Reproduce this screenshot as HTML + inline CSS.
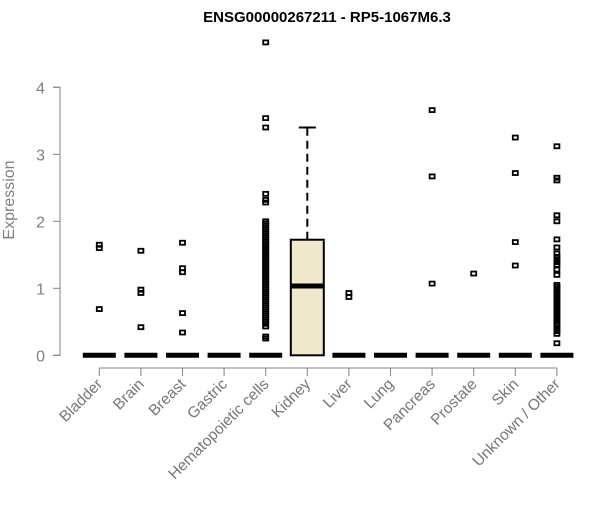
<!DOCTYPE html>
<html><head><meta charset="utf-8"><style>
body{margin:0;background:#fff;width:600px;height:500px;overflow:hidden}
svg{font-family:"Liberation Sans",Arial,sans-serif}
</style></head><body>
<svg id="chart" width="600" height="500"></svg>
<script>
const categories=["Bladder","Brain","Breast","Gastric","Hematopoietic cells","Kidney","Liver","Lung","Pancreas","Prostate","Skin","Unknown / Other"];
const q1=[0,0,0,0,0,0,0,0,0,0,0,0];
const medians=[0,0,0,0,0,1.034,0,0,0,0,0,0];
const q3=[0,0,0,0,0,1.725,0,0,0,0,0,0];
const whiskerLow=[0,0,0,0,0,0,0,0,0,0,0,0];
const whiskerHigh=[0,0,0,0,0,3.40,0,0,0,0,0,0];
const outliers=[
[1.65,1.6,0.69],
[1.56,0.98,0.93,0.42],
[1.68,1.30,1.24,0.63,0.34],
[],
[4.67,3.54,3.40,2.41,2.32,2.28,2.0,1.97,1.94,1.91,1.88,1.85,1.82,1.79,1.76,1.73,1.70,1.67,1.64,1.61,1.58,1.55,1.52,1.49,1.46,1.43,1.40,1.37,1.34,1.31,1.28,1.25,1.22,1.19,1.16,1.13,1.10,1.07,1.04,1.01,0.98,0.95,0.92,0.89,0.86,0.83,0.80,0.77,0.74,0.71,0.68,0.65,0.62,0.59,0.56,0.53,0.50,0.47,0.43,0.28,0.25],
[],
[0.93,0.87],
[],
[3.66,2.67,1.07],
[1.22],
[3.25,2.72,1.69,1.34],
[3.12,2.65,2.61,2.09,2.0,1.73,1.61,1.52,1.47,1.43,1.39,1.35,1.28,1.20,1.05,1.02,0.99,0.95,0.91,0.87,0.83,0.79,0.75,0.71,0.67,0.63,0.59,0.55,0.51,0.47,0.44,0.40,0.36,0.32,0.18]
];
const yTicks=[0,1,2,3,4];
const NS="http://www.w3.org/2000/svg";
const svg=document.getElementById('chart');
function X(i){return 99.3+41.6*i;}
function Y(v){return 355.3-67*v;}
function el(t,a,p){const e=document.createElementNS(NS,t);for(const k in a)e.setAttribute(k,a[k]);(p||svg).appendChild(e);return e;}
const title=el('text',{x:327,y:22,'text-anchor':'middle','font-size':15,'font-weight':'bold',fill:'#000'});


title.textContent="ENSG00000267211 - RP5-1067M6.3";
const yl=el('text',{x:0,y:0,transform:'translate(14,200) rotate(-90)','text-anchor':'middle','font-size':16,fill:'#808080'});


yl.textContent="Expression";
const ya=el('path',{d:`M53,${Y(0)}H60V${Y(4)}H53`,stroke:'#808080',fill:'none'});


yTicks.forEach(t=>{
 el('line',{x1:53,x2:60,y1:Y(t),y2:Y(t),stroke:'#808080'});
 const tx=el('text',{x:45,y:Y(t)+6,'text-anchor':'end','font-size':16,fill:'#808080'});
 
 
 tx.textContent=t;
});
const xa=el('line',{x1:X(0),x2:X(11),y1:368,y2:368,stroke:'#808080'});


categories.forEach((c,i)=>{
 const x=X(i);
 el('line',{x1:x,x2:x,y1:368,y2:376,stroke:'#808080'});
 const t=el('text',{x:0,y:0,transform:`translate(${x+4},${385}) rotate(-45)`,'text-anchor':'end','font-size':15.5,fill:'#777'});
 
 
 t.textContent=c;
 const g=el('g',{});
 
 
 const hw=16.5;
 if(q3[i]>q1[i]){
  el('rect',{x:x-hw,y:Y(q3[i]),width:2*hw,height:Y(q1[i])-Y(q3[i]),fill:'#efe8cd',stroke:'#000','stroke-width':2},g);
 }
 if(whiskerHigh[i]>q3[i]){
  el('line',{x1:x,x2:x,y1:Y(q3[i]),y2:Y(whiskerHigh[i]),stroke:'#000','stroke-width':2,'stroke-dasharray':'8,5'},g);
  el('line',{x1:x-8.5,x2:x+8.5,y1:Y(whiskerHigh[i]),y2:Y(whiskerHigh[i]),stroke:'#000','stroke-width':2},g);
 }
 if(whiskerLow[i]<q1[i]){
  el('line',{x1:x,x2:x,y1:Y(q1[i]),y2:Y(whiskerLow[i]),stroke:'#000','stroke-width':2,'stroke-dasharray':'8,5'},g);
 }
 el('line',{x1:x-hw,x2:x+hw,y1:Y(medians[i]),y2:Y(medians[i]),stroke:'#000','stroke-width':5},g);
 outliers[i].forEach(v=>{
  const p=el('rect',{x:x-2.5,y:Y(v)-2,width:5,height:4,fill:'none',stroke:'#000','stroke-width':1.8},g);
  
  
 });
});
</script>
</body></html>
